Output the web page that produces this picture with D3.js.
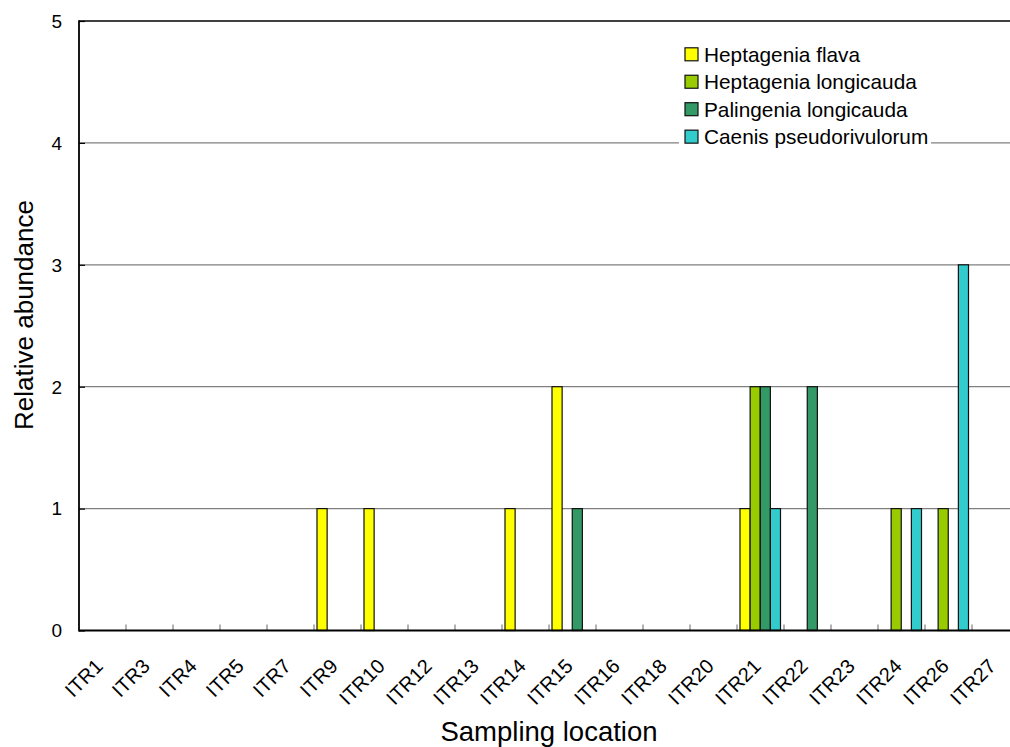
<!DOCTYPE html>
<html>
<head>
<meta charset="utf-8">
<script src="https://cdn.jsdelivr.net/npm/d3@7"></script>
<style>
  html, body { margin: 0; padding: 0; background: #fff; }
  svg { display: block; font-family: "Liberation Sans", Arial, sans-serif; }
</style>
</head>
<body>
<svg id="chart" width="1010" height="747"></svg>
<script>
// Sampling locations along the river
const categories = ["ITR1", "ITR3", "ITR4", "ITR5", "ITR7", "ITR9", "ITR10", "ITR12", "ITR13", "ITR14",
                    "ITR15", "ITR16", "ITR18", "ITR20", "ITR21", "ITR22", "ITR23", "ITR24", "ITR26", "ITR27"];

// Relative abundance per taxon at each location
const heptageniaFlava       = [0, 0, 0, 0, 0, 1, 1, 0, 0, 1, 2, 0, 0, 0, 1, 0, 0, 0, 0, 0];
const heptageniaLongicauda  = [0, 0, 0, 0, 0, 0, 0, 0, 0, 0, 0, 0, 0, 0, 2, 0, 0, 1, 1, 0];
const palingeniaLongicauda  = [0, 0, 0, 0, 0, 0, 0, 0, 0, 0, 1, 0, 0, 0, 2, 2, 0, 0, 0, 0];
const caenisPseudorivulorum = [0, 0, 0, 0, 0, 0, 0, 0, 0, 0, 0, 0, 0, 0, 1, 0, 0, 1, 3, 0];

const seriesNames = ["Heptagenia flava", "Heptagenia longicauda", "Palingenia longicauda", "Caenis pseudorivulorum"];
const seriesValues = [heptageniaFlava, heptageniaLongicauda, palingeniaLongicauda, caenisPseudorivulorum];
const seriesColors = ["#FFFF00", "#99CC00", "#339966", "#33CCCC"];

const yTicks = [0, 1, 2, 3, 4, 5];

const svg = d3.select("#chart");
const plot = { left: 79, right: 1019, top: 21, bottom: 630.5 };

const x = d3.scaleBand().domain(categories).range([plot.left, plot.right]);
const xs = d3.scaleBand().domain(seriesNames).range([3, 43.5]);
const y = d3.scaleLinear().domain([0, 5]).range([plot.bottom, plot.top]);
const color = d3.scaleOrdinal().domain(seriesNames).range(seriesColors);

// horizontal gridlines
svg.append("g")
  .selectAll("line")
  .data(yTicks.filter(v => v > 0 && v < 5))
  .join("line")
  .attr("x1", plot.left).attr("x2", plot.right)
  .attr("y1", d => y(d)).attr("y2", d => y(d))
  .attr("stroke", "#808080").attr("stroke-width", 1.2);

// top edge of the plot area
svg.append("line")
  .attr("x1", plot.left).attr("x2", plot.right)
  .attr("y1", y(5)).attr("y2", y(5))
  .attr("stroke", "#000").attr("stroke-width", 1.6);

// bars, one group per location
const rows = categories.map((c, i) => ({
  cat: c,
  vals: seriesNames.map((s, j) => ({ series: s, value: seriesValues[j][i] }))
}));

svg.append("g")
  .selectAll("g")
  .data(rows)
  .join("g")
  .attr("transform", d => `translate(${x(d.cat)},0)`)
  .selectAll("rect")
  .data(d => d.vals.filter(v => v.value > 0))
  .join("rect")
  .attr("x", d => xs(d.series))
  .attr("width", xs.bandwidth())
  .attr("y", d => y(d.value))
  .attr("height", d => y(0) - y(d.value))
  .attr("fill", d => color(d.series))
  .attr("stroke", "#111").attr("stroke-width", 1.2);

// x axis: ticks between categories, pointing up into the plot
const xBounds = categories.map(c => x(c)).concat([plot.right]);
svg.append("g")
  .selectAll("line")
  .data(xBounds.slice(1))
  .join("line")
  .attr("x1", d => d).attr("x2", d => d)
  .attr("y1", plot.bottom).attr("y2", plot.bottom - 6)
  .attr("stroke", "#666").attr("stroke-width", 1);

svg.append("line")
  .attr("x1", plot.left).attr("x2", plot.right)
  .attr("y1", plot.bottom).attr("y2", plot.bottom)
  .attr("stroke", "#000").attr("stroke-width", 1.8);

svg.append("g")
  .selectAll("text")
  .data(categories)
  .join("text")
  .attr("transform", d => `translate(${x(d) + x.bandwidth() / 2 + 1.5},667.5) rotate(-45)`)
  .attr("text-anchor", "end")
  .attr("font-size", 20)
  .attr("fill", "#000")
  .text(d => d);

// y axis with inward ticks
const yAxis = d3.axisRight(y).tickValues(yTicks).tickSize(6).tickFormat("");
svg.append("g")
  .attr("transform", `translate(${plot.left},0)`)
  .call(yAxis)
  .call(g => g.select(".domain").remove())
  .call(g => g.selectAll(".tick line").attr("stroke", "#000").attr("stroke-width", 1.2));

svg.append("line")
  .attr("x1", plot.left).attr("x2", plot.left)
  .attr("y1", plot.top - 0.8).attr("y2", plot.bottom + 0.9)
  .attr("stroke", "#000").attr("stroke-width", 1.8);

svg.append("g")
  .selectAll("text")
  .data(yTicks)
  .join("text")
  .attr("x", 62)
  .attr("y", d => y(d))
  .attr("dy", "0.36em")
  .attr("text-anchor", "end")
  .attr("font-size", 19)
  .attr("fill", "#000")
  .text(d => d);

// axis titles
svg.append("text")
  .attr("x", (plot.left + plot.right) / 2)
  .attr("y", 741)
  .attr("text-anchor", "middle")
  .attr("font-size", 27.5)
  .text("Sampling location");

svg.append("text")
  .attr("transform", "translate(33,315) rotate(-90)")
  .attr("text-anchor", "middle")
  .attr("font-size", 26)
  .text("Relative abundance");

// legend
const legend = svg.append("g").attr("transform", "translate(679,40)");
legend.append("rect")
  .attr("x", 0).attr("y", 0).attr("width", 252).attr("height", 112)
  .attr("fill", "#fff");

const item = legend.selectAll("g.item")
  .data(seriesNames)
  .join("g")
  .attr("class", "item")
  .attr("transform", (d, i) => `translate(6,${14.3 + i * 27.45})`);

item.append("rect")
  .attr("x", 0).attr("y", -6.5)
  .attr("width", 13).attr("height", 13)
  .attr("fill", d => color(d))
  .attr("stroke", "#111").attr("stroke-width", 1.2);

item.append("text")
  .attr("x", 19)
  .attr("dy", "0.36em")
  .attr("font-size", 20.8)
  .text(d => d);
</script>
</body>
</html>
